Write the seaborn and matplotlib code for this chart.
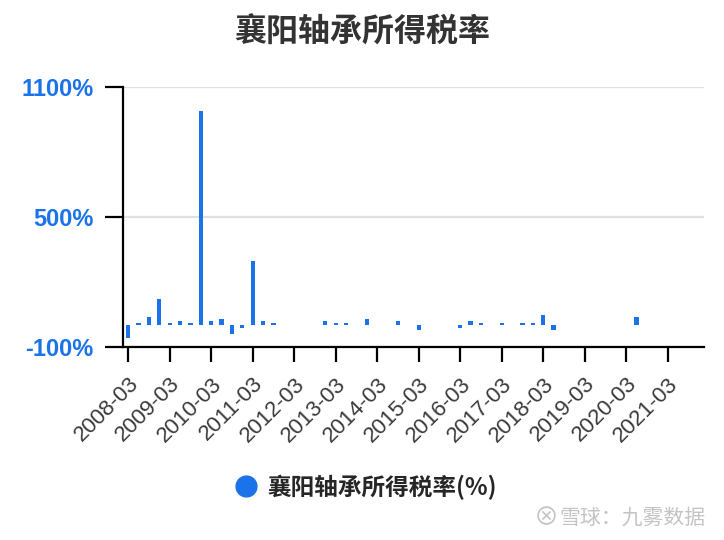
import numpy as np
import pandas as pd
import seaborn as sns
import matplotlib.pyplot as plt
from matplotlib.lines import Line2D

# quarters 2008-03 .. 2021-12
quarters = [f"{y}-{m}" for y in range(2008, 2022) for m in ("03", "06", "09", "12")]
tax_rate = [
    -57, 12, 38, 120, 12, 20, 12, 987,
    20, 28, -41, -12, 295, 20, 12, None,
    None, None, None, 20, 12, 12, None, 28,
    None, None, 20, None, -20, None, None, None,
    -12, 20, 12, None, 12, None, 12, 12,
    47, -20, None, None, None, None, None, None,
    None, 38, None, None, None, None, None, None,
]
y_ticks = [-100, 500, 1100]
series_name = "襄阳轴承所得税率(%)"
chart_title = "襄阳轴承所得税率"

blue = "#1a73e8"
cjk = ["Noto Sans CJK SC", "DejaVu Sans"]

sns.set_theme(style="white")
plt.rcParams["font.family"] = ["Liberation Sans", "Noto Sans CJK SC", "DejaVu Sans"]

df = pd.DataFrame({"quarter": quarters, "rate": np.array(tax_rate, dtype=float)})

fig = plt.figure(figsize=(7.24, 5.4), dpi=100)
ax = fig.add_axes([123 / 724, 1 - 347 / 540, (704 - 123) / 724, (347 - 87) / 540])

sns.barplot(data=df, x="quarter", y="rate", order=quarters, color=blue,
            saturation=1, width=0.42, errorbar=None, linewidth=0, ax=ax)

ax.set_xlim(-0.5, len(quarters) - 0.5)
ax.set_ylim(-100, 1100)
ax.set_yticks(y_ticks)
ax.set_yticklabels([f"{v}%" for v in y_ticks])
ax.set_xticks(range(0, len(quarters), 4))
ax.set_xticklabels(quarters[::4], rotation=45, ha="right", rotation_mode="anchor")
ax.set_xlabel("")
ax.set_ylabel("")

ax.yaxis.grid(True, color="#e0e0e0", linewidth=1.6)
ax.set_axisbelow(True)
for s in ("top", "right"):
    ax.spines[s].set_visible(False)
for s in ("left", "bottom"):
    ax.spines[s].set_color("black")
    ax.spines[s].set_linewidth(1.6)

ax.tick_params(axis="y", left=True, length=13, width=1.6, color="black", pad=8,
               labelsize=17, labelcolor=blue)
for lab in ax.get_yticklabels():
    lab.set_fontweight("bold")
ax.tick_params(axis="x", bottom=True, length=11, width=1.6, color="black", pad=8,
               labelsize=16, labelcolor="#3a3a3a")

fig.text(0.5, 1 - 33 / 540, chart_title, ha="center", va="center", fontsize=23,
         fontweight="bold", color="#333333", family=cjk)

handle = Line2D([], [], marker="o", linestyle="", markersize=15, color=blue)
fig.legend([handle], [series_name], loc="center", bbox_to_anchor=(0.505, 1 - 487 / 540),
           frameon=False, handlelength=1.0, handletextpad=0.45,
           prop={"family": cjk, "size": 17, "weight": "bold"})

fig.text(0.975, 1 - 518 / 540, "雪球：九雾数据", ha="right", va="center", fontsize=15,
         color="#c4c4c4", family=cjk)
fig.text(0.755, 1 - 518 / 540, "⊗", ha="center", va="center", fontsize=18,
         color="#c4c4c4")

fig.savefig("out.png", dpi=100)
